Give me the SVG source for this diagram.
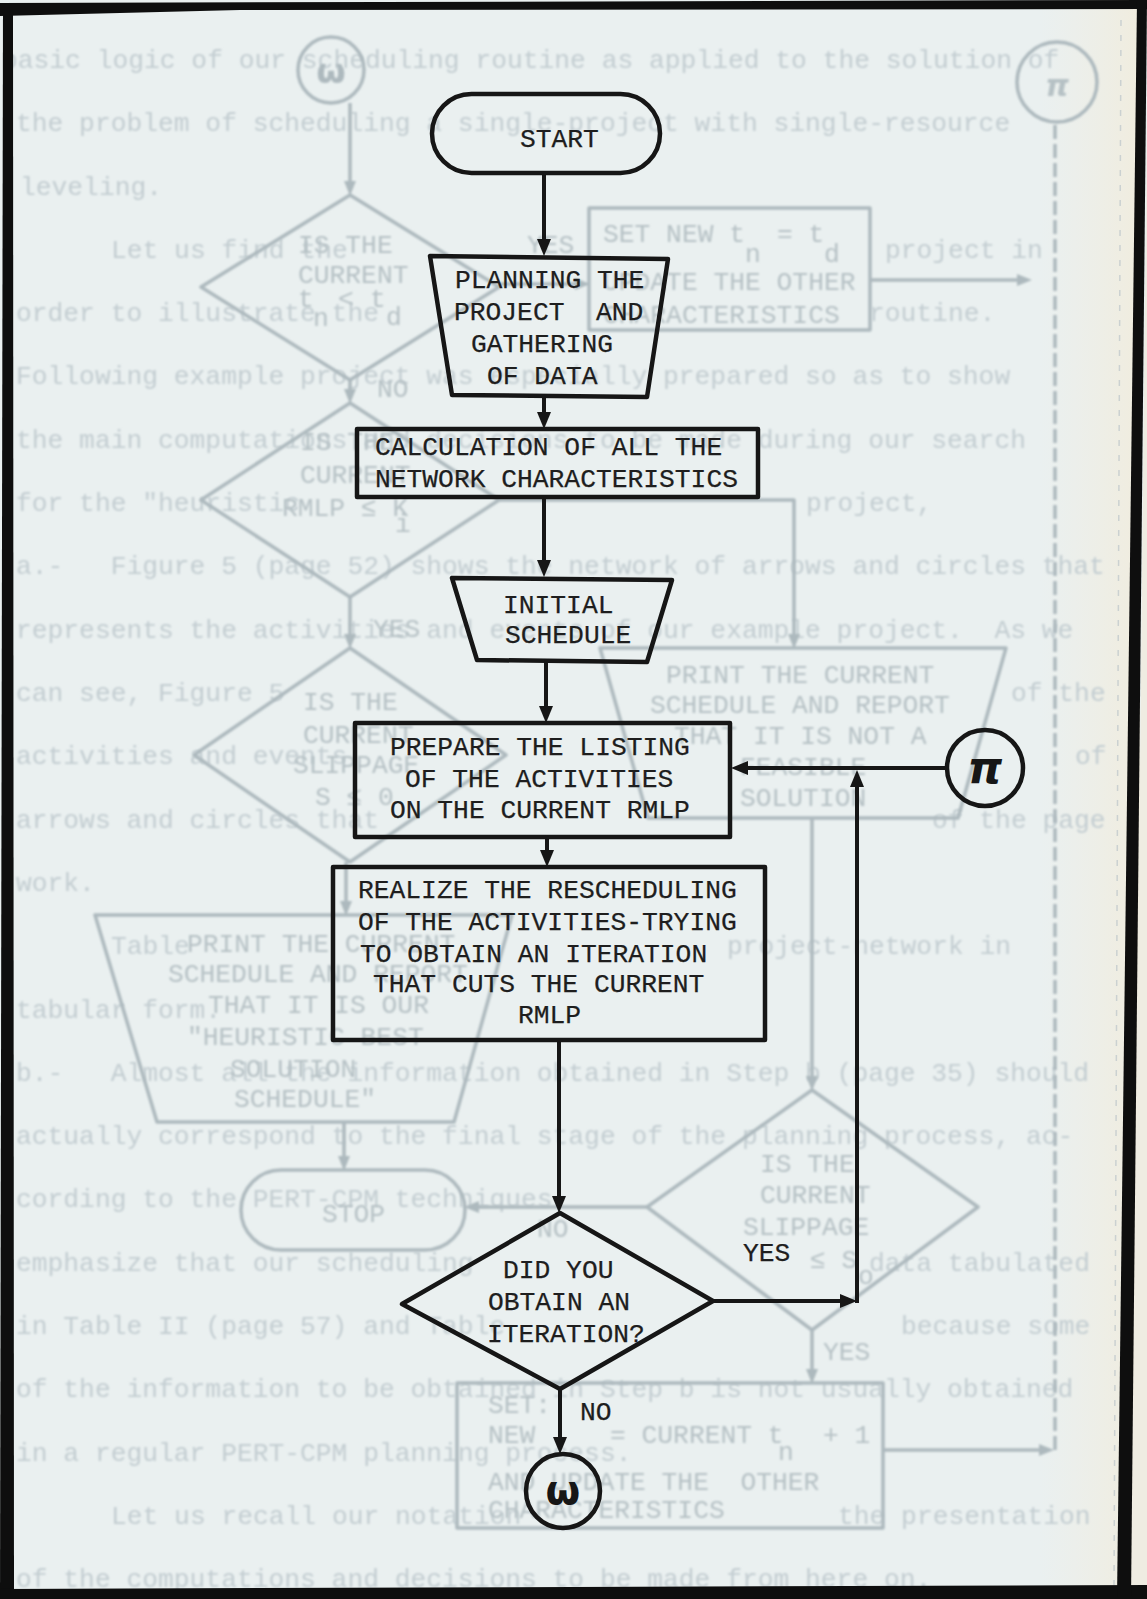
<svg xmlns="http://www.w3.org/2000/svg" width="1147" height="1599" viewBox="0 0 1147 1599">
<defs>
<style>
.m{fill:none;stroke:#161616;stroke-width:4.5;stroke-linejoin:round}
.c{fill:none;stroke:#161616;stroke-width:4}
.t{font-family:"Liberation Mono","DejaVu Sans Mono",monospace;font-size:26.3px;fill:#1e1e1e;stroke:#1e1e1e;stroke-width:0.25;white-space:pre}
.g{fill:none;stroke:#adb9be;stroke-width:3.5;stroke-linejoin:round}
.gt{font-family:"Liberation Mono","DejaVu Sans Mono",monospace;font-size:26.3px;fill:#b6c1c5;white-space:pre}
.bt{font-family:"Liberation Mono","DejaVu Sans Mono",monospace;font-size:26.3px;fill:#c3cdd1;white-space:pre}
.sym{font-family:"DejaVu Sans",sans-serif;font-weight:bold;text-anchor:middle}
</style>
<filter id="soft" x="-2%" y="-2%" width="104%" height="104%">
<feGaussianBlur stdDeviation="0.8"/>
</filter>
<marker id="ah" markerUnits="userSpaceOnUse" markerWidth="17" markerHeight="14" viewBox="0 0 17 14" refX="11" refY="7" orient="auto">
<path d="M0,0 L17,7 L0,14 z" fill="#161616"/>
</marker>
<marker id="gah" markerUnits="userSpaceOnUse" markerWidth="15" markerHeight="12" viewBox="0 0 15 12" refX="10" refY="6" orient="auto">
<path d="M0,0 L15,6 L0,12 z" fill="#adb9be"/>
</marker>
<linearGradient id="edge" x1="0" y1="0" x2="1" y2="0">
<stop offset="0" stop-color="#f0ede2" stop-opacity="0"/>
<stop offset="1" stop-color="#f1ecdc" stop-opacity="0.9"/>
</linearGradient>
</defs>

<rect x="0" y="0" width="1147" height="1599" fill="#eaf0f0"/>
<rect x="1040" y="0" width="100" height="1599" fill="url(#edge)"/>
<line x1="1121" y1="20" x2="1114" y2="1585" stroke="#cbd1d1" stroke-width="1.5" stroke-dasharray="6 9"/>

<g id="bleed-text" filter="url(#soft)">
<text class="bt" x="2" y="68">basic logic of our scheduling routine as applied to the solution of</text>
<text class="bt" x="16" y="131">the problem of scheduling a single-project with single-resource</text>
<text class="bt" x="20" y="195">leveling.</text>
<text class="bt" x="111" y="258">Let us find the</text>
<text class="bt" x="885" y="258">project in</text>
<text class="bt" x="16" y="321">order to illustrate the</text>
<text class="bt" x="869" y="321">routine.</text>
<text class="bt" x="16" y="384">Following example project was especially prepared so as to show</text>
<text class="bt" x="16" y="448">the main computations and decisions to be made during our search</text>
<text class="bt" x="16" y="511">for the "heuristic</text>
<text class="bt" x="806" y="511">project,</text>
<text class="bt" x="16" y="574">a.-   Figure 5 (page 52) shows the network of arrows and circles that</text>
<text class="bt" x="16" y="638">represents the activities and events of our example project.  As we</text>
<text class="bt" x="16" y="701">can see, Figure 5</text>
<text class="bt" x="1011" y="701">of the</text>
<text class="bt" x="16" y="764">activities and events</text>
<text class="bt" x="1075" y="764">of</text>
<text class="bt" x="16" y="828">arrows and circles that</text>
<text class="bt" x="932" y="828">of the page</text>
<text class="bt" x="16" y="891">work.</text>
<text class="bt" x="111" y="954">Table</text>
<text class="bt" x="727" y="954">project-network in</text>
<text class="bt" x="16" y="1018">tabular form.</text>
<text class="bt" x="16" y="1081">b.-   Almost all the information obtained in Step b (page 35) should</text>
<text class="bt" x="16" y="1144">actually correspond to the final stage of the planning process, ac-</text>
<text class="bt" x="16" y="1207">cording to the PERT-CPM techniques.</text>
<text class="bt" x="16" y="1271">emphasize that our scheduling</text>
<text class="bt" x="869" y="1271">data tabulated</text>
<text class="bt" x="16" y="1334">in Table II (page 57) and Table</text>
<text class="bt" x="901" y="1334">because some</text>
<text class="bt" x="16" y="1397">of the information to be obtained in Step b is not usually obtained</text>
<text class="bt" x="16" y="1461">in a regular PERT-CPM planning process.</text>
<text class="bt" x="111" y="1524">Let us recall our notation</text>
<text class="bt" x="838" y="1524">the presentation</text>
<text class="bt" x="16" y="1587">of the computations and decisions to be made from here on.</text>
</g>

<g id="bleed-chart" filter="url(#soft)">
<g class="g">
<circle cx="331" cy="70" r="33"/>
<polygon points="350,195 499,287 350,380 201,287"/>
<rect x="589" y="208" width="281" height="122"/>
<polygon points="350,403 499,500 350,597 201,500"/>
<polygon points="350,648 506,755 350,862 194,755"/>
<polygon points="95,915 512,915 454,1122 157,1122"/>
<rect x="241" y="1170" width="224" height="80" rx="40"/>
<polygon points="600,648 1006,648 958,818 648,818"/>
<polygon points="812,1090 978,1207 812,1330 647,1207"/>
<rect x="457" y="1383" width="426" height="145"/>
<circle cx="1057" cy="82" r="40"/>
<path d="M350,103 V191" marker-end="url(#gah)"/>
<path d="M499,284 H585" marker-end="url(#gah)"/>
<path d="M870,280 H1027" marker-end="url(#gah)"/>
<path d="M350,380 V399" marker-end="url(#gah)"/>
<path d="M499,500 H794 V644" marker-end="url(#gah)"/>
<path d="M350,597 V644" marker-end="url(#gah)"/>
<path d="M346,862 V911" marker-end="url(#gah)"/>
<path d="M344,1122 V1166" marker-end="url(#gah)"/>
<path d="M812,818 V1086" marker-end="url(#gah)"/>
<path d="M647,1207 H469" marker-end="url(#gah)"/>
<path d="M812,1330 V1379" marker-end="url(#gah)"/>
<path d="M883,1450 H1049" marker-end="url(#gah)"/>
<path d="M1055,1450 V122" stroke-dasharray="14 5"/>
</g>
<text class="sym" x="331" y="83" font-size="34" fill="#adb9be">ω</text>
<text class="sym" x="1057" y="96" font-size="30" font-style="italic" fill="#b6c1c5">π</text>
<text class="gt" x="298" y="253">IS THE</text>
<text class="gt" x="298" y="283">CURRENT</text>
<text class="gt" x="298" y="307">t</text>
<text class="gt" x="313" y="326">n</text>
<text class="gt" x="338" y="307">&lt;</text>
<text class="gt" x="370" y="307">t</text>
<text class="gt" x="386" y="325">d</text>
<text class="gt" x="377" y="397">NO</text>
<text class="gt" x="527" y="253">YES</text>
<text class="gt" x="603" y="242">SET NEW t</text>
<text class="gt" x="745" y="262">n</text>
<text class="gt" x="777" y="242">= t</text>
<text class="gt" x="824" y="262">d</text>
<text class="gt" x="603" y="290">UPDATE THE OTHER</text>
<text class="gt" x="603" y="323">CHARACTERISTICS</text>
<text class="gt" x="300" y="450">IS THE</text>
<text class="gt" x="300" y="483">CURRENT</text>
<text class="gt" x="282" y="516">RMLP ≤ K</text>
<text class="gt" x="395" y="532">i</text>
<text class="gt" x="373" y="637">YES</text>
<text class="gt" x="303" y="710">IS THE</text>
<text class="gt" x="303" y="743">CURRENT</text>
<text class="gt" x="293" y="773">SLIPPAGE</text>
<text class="gt" x="315" y="805">S ≤ 0</text>
<text class="gt" x="666" y="683">PRINT THE CURRENT</text>
<text class="gt" x="650" y="713">SCHEDULE AND REPORT</text>
<text class="gt" x="674" y="744">THAT IT IS NOT A</text>
<text class="gt" x="740" y="775">FEASIBLE</text>
<text class="gt" x="740" y="806">SOLUTION</text>
<text class="gt" x="187" y="952">PRINT THE CURRENT</text>
<text class="gt" x="168" y="982">SCHEDULE AND REPORT</text>
<text class="gt" x="208" y="1013">THAT IT IS OUR</text>
<text class="gt" x="187" y="1045">"HEURISTIC BEST</text>
<text class="gt" x="230" y="1077">SOLUTION</text>
<text class="gt" x="234" y="1107">SCHEDULE"</text>
<text class="gt" x="322" y="1222">STOP</text>
<text class="gt" x="760" y="1172">IS THE</text>
<text class="gt" x="760" y="1203">CURRENT</text>
<text class="gt" x="743" y="1235">SLIPPAGE</text>
<text class="gt" x="810" y="1268">≤ S</text>
<text class="gt" x="858" y="1284">o</text>
<text class="gt" x="537" y="1237">NO</text>
<text class="gt" x="823" y="1360">YES</text>
<text class="gt" x="488" y="1413">SET:</text>
<text class="gt" x="488" y="1443">NEW</text>
<text class="gt" x="610" y="1443">= CURRENT t</text>
<text class="gt" x="778" y="1460">n</text>
<text class="gt" x="823" y="1443">+ 1</text>
<text class="gt" x="488" y="1490">AND UPDATE THE  OTHER</text>
<text class="gt" x="488" y="1518">CHARACTERISTICS</text>
</g>

<g id="connectors">
<path class="c" d="M544,173 V250" marker-end="url(#ah)"/>
<path class="c" d="M544,397 V423" marker-end="url(#ah)"/>
<path class="c" d="M544,497 V571" marker-end="url(#ah)"/>
<path class="c" d="M546,662 V717" marker-end="url(#ah)"/>
<path class="c" d="M547,837 V861" marker-end="url(#ah)"/>
<path class="c" d="M559,1040 V1207" marker-end="url(#ah)"/>
<path class="c" d="M560,1389 V1448" marker-end="url(#ah)"/>
<path class="c" d="M713,1301 H851" marker-end="url(#ah)"/>
<path class="c" d="M857,1303 V776" marker-end="url(#ah)"/>
<path class="c" d="M947,768 H737" marker-end="url(#ah)"/>
<text class="t" x="743" y="1261">YES</text>
<text class="t" x="580" y="1420">NO</text>
</g>

<g id="start">
<rect class="m" x="432" y="94" width="228" height="79" rx="39.5"/>
<text class="t" x="520" y="147">START</text>
</g>
<g id="planning">
<polygon class="m" points="430,256 668,259 647,397 452,395"/>
<text class="t" x="455" y="288">PLANNING THE</text>
<text class="t" x="454" y="320">PROJECT  AND</text>
<text class="t" x="471" y="352">GATHERING</text>
<text class="t" x="487" y="384">OF DATA</text>
</g>
<g id="calculation">
<rect class="m" x="357" y="429" width="401" height="68"/>
<text class="t" x="375" y="455">CALCULATION OF ALL THE</text>
<text class="t" x="375" y="487">NETWORK CHARACTERISTICS</text>
</g>
<g id="initial-schedule">
<polygon class="m" points="452,578 672,580 647,662 477,660"/>
<text class="t" x="503" y="613">INITIAL</text>
<text class="t" x="505" y="643">SCHEDULE</text>
</g>
<g id="prepare">
<rect class="m" x="355" y="723" width="375" height="114"/>
<text class="t" x="390" y="755">PREPARE THE LISTING</text>
<text class="t" x="405" y="787">OF THE ACTIVITIES</text>
<text class="t" x="390" y="818">ON THE CURRENT RMLP</text>
</g>
<g id="realize">
<rect class="m" x="333" y="867" width="432" height="173"/>
<text class="t" x="358" y="898">REALIZE THE RESCHEDULING</text>
<text class="t" x="358" y="930">OF THE ACTIVITIES-TRYING</text>
<text class="t" x="360" y="962">TO OBTAIN AN ITERATION</text>
<text class="t" x="373" y="992">THAT CUTS THE CURRENT</text>
<text class="t" x="518" y="1023">RMLP</text>
</g>
<g id="decision">
<polygon class="m" points="560,1213 713,1301 560,1389 402,1304"/>
<text class="t" x="503" y="1278">DID YOU</text>
<text class="t" x="488" y="1310">OBTAIN AN</text>
<text class="t" x="487" y="1342">ITERATION?</text>
</g>
<g id="pi">
<circle class="m" cx="985" cy="768" r="38"/>
<text class="sym" x="985" y="783" font-size="44" font-style="italic" fill="#161616">π</text>
</g>
<g id="omega">
<circle class="m" cx="563" cy="1491" r="37"/>
<text class="sym" x="563" y="1504" font-size="40" fill="#161616">ω</text>
</g>

<g id="frame" fill="#0e0e0e">
<polygon points="1147,120 1147,1599 1131,1599" fill="#efece2"/>
<polygon points="0,3 1147,0 1147,9 240,10 0,16"/>
<polygon points="3,3 13,3 14,1599 0,1599"/>
<polygon points="0,1589 1147,1585 1147,1599 0,1599"/>
<polygon points="1137,0 1147,0 1131,1599 1117,1599"/>
</g>
</svg>
